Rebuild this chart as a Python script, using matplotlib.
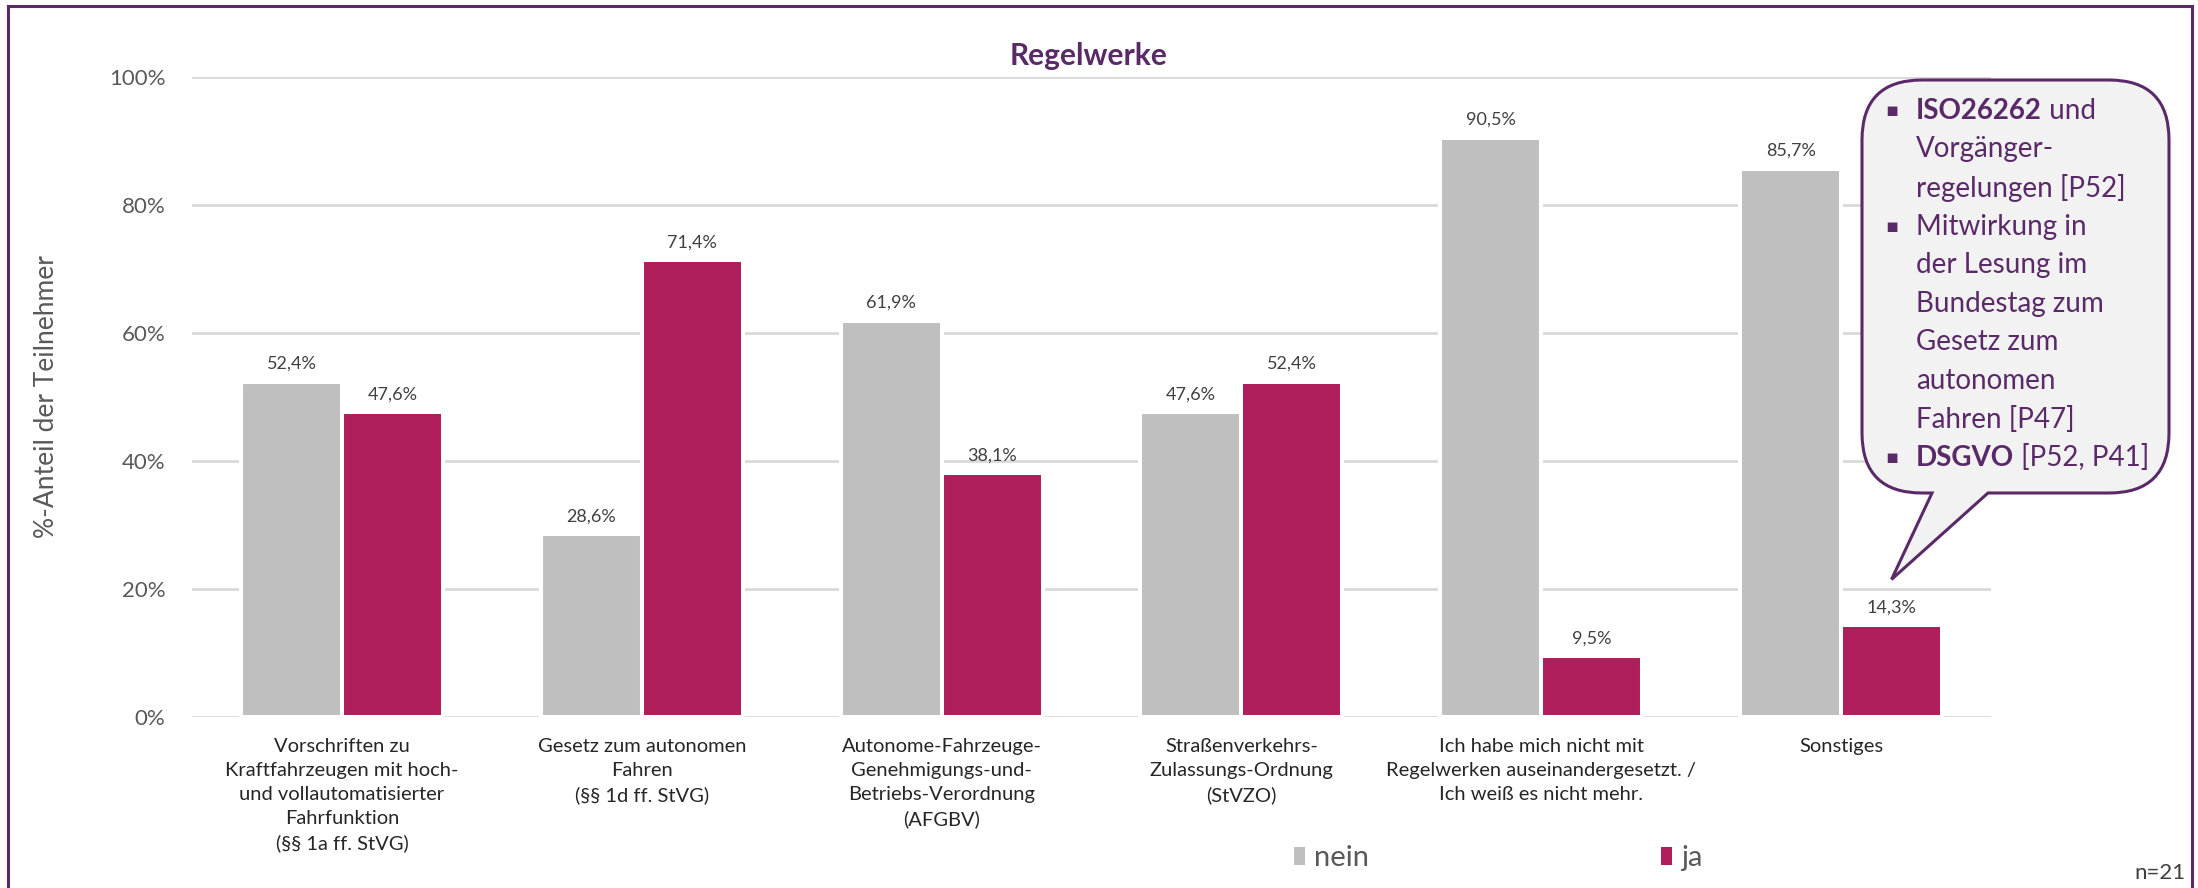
import matplotlib
matplotlib.use('Agg')
import matplotlib.pyplot as plt
from matplotlib.path import Path
from matplotlib.patches import PathPatch
from matplotlib.lines import Line2D
from matplotlib.text import Annotation
import numpy as np

W, H = 2198, 888

categories = [
    'Vorschriften zu\nKraftfahrzeugen mit hoch-\nund vollautomatisierter\nFahrfunktion\n(§§ 1a ff. StVG)',
    'Gesetz zum autonomen\nFahren\n(§§ 1d ff. StVG)',
    'Autonome-Fahrzeuge-\nGenehmigungs-und-\nBetriebs-Verordnung\n(AFGBV)',
    'Straßenverkehrs-\nZulassungs-Ordnung\n(StVZO)',
    'Ich habe mich nicht mit\nRegelwerken auseinandergesetzt. /\nIch weiß es nicht mehr.',
    'Sonstiges',
]
nein = [52.4, 28.6, 61.9, 47.6, 90.5, 85.7]
ja = [47.6, 71.4, 38.1, 52.4, 9.5, 14.3]
series_names = ['nein', 'ja']
yticks = [0, 20, 40, 60, 80, 100]

# callout lines: (bullet?, bold part, regular part)
note_lines = [
    (True, 'ISO26262', ' und'),
    (False, '', 'Vorgänger-'),
    (False, '', 'regelungen [P52]'),
    (True, '', 'Mitwirkung in'),
    (False, '', 'der Lesung im'),
    (False, '', 'Bundestag zum'),
    (False, '', 'Gesetz zum'),
    (False, '', 'autonomen'),
    (False, '', 'Fahren [P47]'),
    (True, 'DSGVO', ' [P52, P41]'),
]

GRAY = '#BFBFBF'
PINK = '#AF1E5A'
PURPLE = '#5A2A68'
GRID = '#D9D9D9'

plt.rcParams['font.family'] = ['Lato', 'DejaVu Sans']


def fx(x):
    return x / W


def fy(y):
    return 1 - y / H


fig = plt.figure(figsize=(W / 100, H / 100), dpi=100)
ax = fig.add_axes([fx(192), fy(717), fx(1991) - fx(192), fy(77) - fy(717)])

x = np.arange(len(categories))
bw = 0.3367
b1 = ax.bar(x - bw / 2, np.array(nein) / 100, bw, color=GRAY, edgecolor='white', linewidth=2.9, zorder=3)
b2 = ax.bar(x + bw / 2, np.array(ja) / 100, bw, color=PINK, edgecolor='white', linewidth=2.9, zorder=3)

for bars, vals in ((b1, nein), (b2, ja)):
    for rect, v in zip(bars, vals):
        ax.annotate(f'{v:.1f}%'.replace('.', ','), (rect.get_x() + rect.get_width() / 2, v / 100),
                    xytext=(0, 7), textcoords='offset points', ha='center', va='bottom',
                    fontsize=13, color='#404040', zorder=4)

ax.set_xlim(-0.5, len(categories) - 0.5)
ax.set_ylim(0, 1)
ax.set_yticks([t / 100 for t in yticks])
ax.set_yticklabels([f'{t}%' for t in yticks], fontsize=16, color='#595959')
ax.set_xticks(x)
ax.set_xticklabels(categories, fontsize=14.5, color='#262626', linespacing=1.5, va='top')
ax.tick_params(length=0)
ax.tick_params(axis='y', pad=19)
ax.tick_params(axis='x', pad=15)
ax.grid(axis='y', color=GRID, linewidth=2, zorder=0)
for s in ax.spines.values():
    s.set_visible(False)
ax.set_ylabel('%-Anteil der Teilnehmer', fontsize=19, color='#595959')
ax.yaxis.set_label_coords(-0.074, 0.5)

fig.text(fx(1089), fy(56), 'Regelwerke', ha='center', va='center', fontsize=21.5,
         fontweight='bold', color=PURPLE)

# legend
leg = fig.legend([b1, b2], series_names, loc='center', bbox_to_anchor=(fx(1498), fy(858)),
                 ncol=2, frameon=False, fontsize=21, handlelength=0.4, handleheight=0.57,
                 handletextpad=0.3, columnspacing=10.0, labelcolor='#595959')
for h in leg.legend_handles:
    h.set_linewidth(0)

fig.text(fx(2186), fy(873), 'n=21', ha='right', va='center', fontsize=16, color='#404040')

# frame around the chart
for xs, ys in (([8, 8], [888, 6]), ([8, 2192], [6, 6]), ([2192, 2192], [6, 888])):
    fig.add_artist(Line2D([fx(v) for v in xs], [fy(v) for v in ys], color=PURPLE,
                          linewidth=2.2, transform=fig.transFigure))

# speech bubble pointing at the "ja" bar of "Sonstiges"
fig.canvas.draw()
tip_disp = ax.transData.transform((x[-1] + bw / 2, 0.215))
tip = (tip_disp[0], H - tip_disp[1])
x0, x1, y0, y1, r = 1862, 2169, 80, 493, 60
xa, xb = 1932, 1988
verts = [
    (x0 + r, y0), (x1 - r, y0), (x1, y0), (x1, y0 + r), (x1, y1 - r), (x1, y1), (x1 - r, y1),
    (xb, y1), tip, (xa, y1), (x0 + r, y1), (x0, y1), (x0, y1 - r), (x0, y0 + r), (x0, y0),
    (x0 + r, y0), (x0 + r, y0),
]
codes = [Path.MOVETO, Path.LINETO, Path.CURVE3, Path.CURVE3, Path.LINETO, Path.CURVE3, Path.CURVE3,
         Path.LINETO, Path.LINETO, Path.LINETO, Path.LINETO, Path.CURVE3, Path.CURVE3, Path.LINETO,
         Path.CURVE3, Path.CURVE3, Path.CLOSEPOLY]
path = Path([(fx(a), fy(b)) for a, b in verts], codes)
fig.add_artist(PathPatch(path, facecolor='#F2F2F2', edgecolor=PURPLE, linewidth=2.2,
                         transform=fig.transFigure, zorder=5))

line_y0, line_step = 111, 38.5
for i, (bullet, bold, rest) in enumerate(note_lines):
    yy = fy(line_y0 + i * line_step)
    if bullet:
        fig.text(fx(1892), yy, '▪', ha='center', va='center', fontsize=14, color=PURPLE,
                 family=['DejaVu Sans'], zorder=6)
    if bold:
        t = fig.text(fx(1916), yy, bold, ha='left', va='center', fontsize=20, fontweight='bold',
                     color=PURPLE, zorder=6)
        ann = Annotation(rest, xy=(1, 0), xycoords=t, ha='left', va='bottom', fontsize=20,
                         color=PURPLE, zorder=6)
        fig.add_artist(ann)
    else:
        fig.text(fx(1916), yy, rest, ha='left', va='center', fontsize=20, color=PURPLE, zorder=6)

fig.savefig('out.png', dpi=100)
